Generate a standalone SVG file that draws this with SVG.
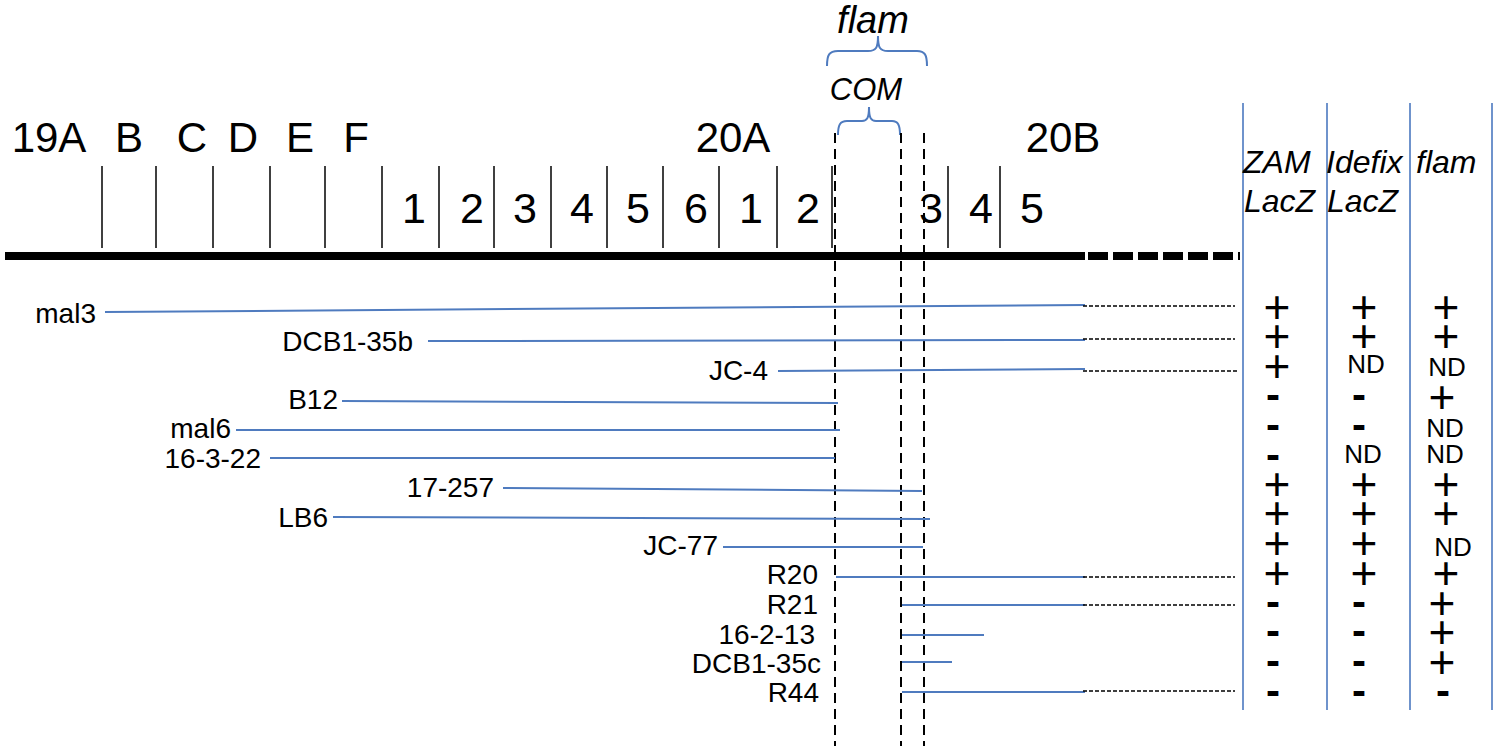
<svg xmlns="http://www.w3.org/2000/svg" width="1500" height="751" viewBox="0 0 1500 751">
<style>
text{font-family:"Liberation Sans",Arial,sans-serif;fill:#000}
.band{font-size:42px;text-anchor:middle}
.num{font-size:43px;text-anchor:middle}
.it{font-style:italic}
.lab{font-size:28px;text-anchor:end}
.pm{font-size:46px;text-anchor:middle}
.mn{font-size:42px;font-weight:bold;text-anchor:middle}
.nd{font-size:26px;text-anchor:middle}
.tick{stroke:#404040;stroke-width:2}
.vd{stroke:#000;stroke-width:2;stroke-dasharray:10 6;fill:none}
.seg{stroke:#4f7bbf;stroke-width:2;fill:none}
.ext{stroke:#000;stroke-width:1.5;stroke-dasharray:4 2;fill:none}
.col{stroke:#6f93cc;stroke-width:2}
.brace{stroke:#4f7bbf;stroke-width:2;fill:none}
</style>
<rect width="1500" height="751" fill="#fff"/>
<g id="chromosome">
<line x1="5" y1="256" x2="1085" y2="256" stroke="#000" stroke-width="8"/>
<line x1="1088" y1="256" x2="1240" y2="256" stroke="#000" stroke-width="8" stroke-dasharray="20 5"/>
<g id="ticks">
<line class="tick" x1="102" y1="166" x2="102" y2="248"/>
<line class="tick" x1="156" y1="166" x2="156" y2="248"/>
<line class="tick" x1="213" y1="166" x2="213" y2="248"/>
<line class="tick" x1="270" y1="166" x2="270" y2="248"/>
<line class="tick" x1="325" y1="166" x2="325" y2="248"/>
<line class="tick" x1="382" y1="166" x2="382" y2="248"/>
<line class="tick" x1="439" y1="166" x2="439" y2="248"/>
<line class="tick" x1="494" y1="166" x2="494" y2="248"/>
<line class="tick" x1="551" y1="166" x2="551" y2="248"/>
<line class="tick" x1="607" y1="166" x2="607" y2="248"/>
<line class="tick" x1="663" y1="166" x2="663" y2="248"/>
<line class="tick" x1="719" y1="166" x2="719" y2="248"/>
<line class="tick" x1="777" y1="166" x2="777" y2="248"/>
<line class="tick" x1="832" y1="166" x2="832" y2="248"/>
<line class="tick" x1="948" y1="166" x2="948" y2="248"/>
<line class="tick" x1="1000" y1="166" x2="1000" y2="248"/>
</g>
<g id="band-labels">
<text class="band" x="49" y="152">19A</text>
<text class="band" x="129" y="152">B</text>
<text class="band" x="192" y="152">C</text>
<text class="band" x="243" y="152">D</text>
<text class="band" x="300" y="152">E</text>
<text class="band" x="356" y="152">F</text>
<text class="band" x="733" y="152">20A</text>
<text class="band" x="1063" y="152">20B</text>
</g>
<g id="sub-labels">
<text class="num" x="414" y="223">1</text>
<text class="num" x="472" y="223">2</text>
<text class="num" x="525" y="223">3</text>
<text class="num" x="582" y="223">4</text>
<text class="num" x="638" y="223">5</text>
<text class="num" x="696" y="223">6</text>
<text class="num" x="751" y="223">1</text>
<text class="num" x="808" y="223">2</text>
<text class="num" x="931" y="223">3</text>
<text class="num" x="981" y="223">4</text>
<text class="num" x="1032" y="223">5</text>
</g>
</g>
<g id="flam-brace">
<text class="it" x="873" y="33" font-size="38" text-anchor="middle">flam</text>
<path class="brace" d="M827,66 C827,55 829,51 838,51 L868,51 C876,51 878,48 878,36 C878,48 880,51 888,51 L917,51 C925,51 927,55 927,66"/>
</g>
<g id="com-brace">
<text class="it" x="866" y="100" font-size="31" text-anchor="middle">COM</text>
<path class="brace" d="M838,135 C838,125 840,121 847,121 L862,121 C867,121 869,118 869,107 C869,118 871,121 876,121 L892,121 C898,121 900,125 900,135"/>
</g>
<g id="boundaries">
<line class="vd" x1="835" y1="133" x2="835" y2="746"/>
<line class="vd" x1="901" y1="133" x2="901" y2="746"/>
<line class="vd" x1="924" y1="133" x2="924" y2="746"/>
</g>
<g id="table">
<line class="col" x1="1243" y1="103" x2="1243" y2="710"/>
<line class="col" x1="1327" y1="103" x2="1327" y2="710"/>
<line class="col" x1="1410" y1="103" x2="1410" y2="710"/>
<line class="col" x1="1492" y1="103" x2="1492" y2="710"/>
<text class="it" x="1243" y="173" font-size="32">ZAM</text>
<text class="it" x="1244" y="212" font-size="32">LacZ</text>
<text class="it" x="1326" y="173" font-size="32">Idefix</text>
<text class="it" x="1327" y="212" font-size="32">LacZ</text>
<text class="it" x="1416" y="173" font-size="32">flam</text>
</g>
<g id="connectors">
<line class="seg" x1="105" y1="312" x2="1085" y2="305"/>
<line class="seg" x1="428" y1="341" x2="1085" y2="340"/>
<line class="seg" x1="778" y1="371" x2="1085" y2="369"/>
<line class="seg" x1="342" y1="401" x2="838" y2="403"/>
<line class="seg" x1="236" y1="430" x2="840" y2="430"/>
<line class="seg" x1="270" y1="458" x2="835" y2="458"/>
<line class="seg" x1="503" y1="488" x2="922" y2="491"/>
<line class="seg" x1="333" y1="517" x2="930" y2="519"/>
<line class="seg" x1="723" y1="547" x2="923" y2="547"/>
<line class="seg" x1="836" y1="577" x2="1085" y2="577"/>
<line class="seg" x1="902" y1="605" x2="1085" y2="605"/>
<line class="seg" x1="902" y1="635" x2="984" y2="635"/>
<line class="seg" x1="902" y1="662" x2="952" y2="662"/>
<line class="seg" x1="902" y1="692" x2="1085" y2="692"/>
<line class="ext" x1="1083" y1="306" x2="1235" y2="306"/>
<line class="ext" x1="1083" y1="339" x2="1235" y2="339"/>
<line class="ext" x1="1083" y1="371" x2="1237" y2="371"/>
<line class="ext" x1="1083" y1="577" x2="1235" y2="577"/>
<line class="ext" x1="1083" y1="605" x2="1235" y2="605"/>
<line class="ext" x1="1083" y1="691" x2="1235" y2="691"/>
</g>
<g id="row-mal3"><text class="lab" x="96" y="323">mal3</text>
<text class="pm" x="1277" y="323">+</text><text class="pm" x="1364" y="323">+</text><text class="pm" x="1446" y="323">+</text></g>
<g id="row-DCB1-35b"><text class="lab" x="413" y="351">DCB1-35b</text>
<text class="pm" x="1277" y="352">+</text><text class="pm" x="1364" y="352">+</text><text class="pm" x="1446" y="352">+</text></g>
<g id="row-JC-4"><text class="lab" x="768" y="380">JC-4</text>
<text class="pm" x="1277" y="382">+</text><text class="nd" x="1366" y="373">ND</text><text class="nd" x="1447" y="376">ND</text></g>
<g id="row-B12"><text class="lab" x="338" y="409">B12</text>
<text class="mn" x="1273" y="409">-</text><text class="mn" x="1359" y="409">-</text><text class="pm" x="1442" y="413">+</text></g>
<g id="row-mal6"><text class="lab" x="231" y="438">mal6</text>
<text class="mn" x="1273" y="439">-</text><text class="mn" x="1359" y="439">-</text><text class="nd" x="1445" y="437">ND</text></g>
<g id="row-16-3-22"><text class="lab" x="261" y="468">16-3-22</text>
<text class="mn" x="1273" y="469">-</text><text class="nd" x="1363" y="463">ND</text><text class="nd" x="1445" y="463">ND</text></g>
<g id="row-17-257"><text class="lab" x="494" y="497">17-257</text>
<text class="pm" x="1277" y="500">+</text><text class="pm" x="1364" y="500">+</text><text class="pm" x="1446" y="500">+</text></g>
<g id="row-LB6"><text class="lab" x="328" y="527">LB6</text>
<text class="pm" x="1277" y="529">+</text><text class="pm" x="1364" y="529">+</text><text class="pm" x="1446" y="529">+</text></g>
<g id="row-JC-77"><text class="lab" x="718" y="555">JC-77</text>
<text class="pm" x="1277" y="559">+</text><text class="pm" x="1364" y="559">+</text><text class="nd" x="1453" y="556">ND</text></g>
<g id="row-R20"><text class="lab" x="818" y="584">R20</text>
<text class="pm" x="1277" y="589">+</text><text class="pm" x="1364" y="589">+</text><text class="pm" x="1446" y="589">+</text></g>
<g id="row-R21"><text class="lab" x="818" y="614">R21</text>
<text class="mn" x="1273" y="616">-</text><text class="mn" x="1359" y="616">-</text><text class="pm" x="1442" y="619">+</text></g>
<g id="row-16-2-13"><text class="lab" x="815" y="644">16-2-13</text>
<text class="mn" x="1273" y="645">-</text><text class="mn" x="1359" y="645">-</text><text class="pm" x="1442" y="648">+</text></g>
<g id="row-DCB1-35c"><text class="lab" x="821" y="673">DCB1-35c</text>
<text class="mn" x="1273" y="675">-</text><text class="mn" x="1359" y="675">-</text><text class="pm" x="1442" y="678">+</text></g>
<g id="row-R44"><text class="lab" x="819" y="702">R44</text>
<text class="mn" x="1273" y="705">-</text><text class="mn" x="1359" y="705">-</text><text class="mn" x="1443" y="705">-</text></g>
</svg>
